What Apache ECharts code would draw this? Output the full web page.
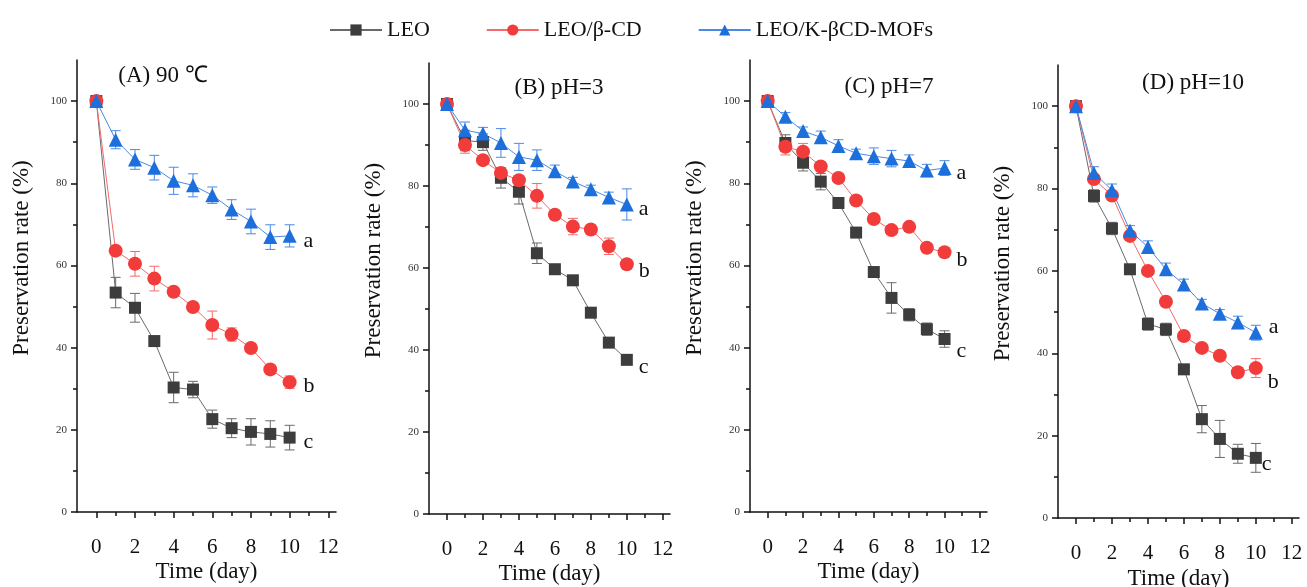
<!DOCTYPE html>
<html>
<head>
<meta charset="utf-8">
<script src="https://cdn.jsdelivr.net/npm/echarts@6/dist/echarts.min.js"></script>
<style>
  html, body { margin: 0; padding: 0; background: #fff; }
  #chart { width: 1307px; height: 587px; }
</style>
</head>
<body>
<div id="chart"></div>
<script>
// sampling days
const days = [0, 1, 2, 3, 4, 5, 6, 7, 8, 9, 10]
const xTicks = [0, 2, 4, 6, 8, 10, 12]
const xMinorTicks = [1, 3, 5, 7, 9, 11]
const yTicks = [0, 20, 40, 60, 80, 100]
const yMinorTicks = [10, 30, 50, 70, 90]

// (A) 90 °C
const leoA = [100, 53.4, 49.7, 41.6, 30.3, 29.8, 22.6, 20.4, 19.5, 19.0, 18.1]
const leoErrA = [0.8, 3.7, 3.5, 1.0, 3.7, 2.0, 2.2, 2.3, 3.2, 3.2, 3.0]
const cdA = [100, 63.6, 60.4, 56.8, 53.6, 49.9, 45.5, 43.2, 39.9, 34.7, 31.6]
const cdErrA = [0.8, 1.0, 3.0, 3.0, 1.0, 1.0, 3.4, 1.6, 1.0, 1.0, 1.5]
const mofA = [100, 90.6, 85.8, 83.8, 80.6, 79.5, 77.1, 73.6, 70.7, 66.9, 67.2]
const mofErrA = [0.8, 2.2, 2.4, 3.0, 3.3, 2.8, 2.0, 2.4, 3.0, 3.0, 2.7]

// (B) pH=3
const leoB = [100, 91.1, 90.7, 82.0, 78.6, 63.6, 59.7, 57.0, 49.1, 41.8, 37.6]
const leoErrB = [0.8, 2.5, 2.0, 2.5, 3.0, 2.5, 1.0, 1.0, 1.0, 1.0, 1.0]
const cdB = [100, 90.0, 86.3, 83.2, 81.4, 77.6, 73.0, 70.1, 69.4, 65.3, 60.9]
const cdErrB = [0.8, 2.0, 1.0, 1.3, 1.0, 3.0, 1.0, 2.0, 1.0, 2.0, 1.0]
const mofB = [100, 93.6, 92.8, 90.5, 87.1, 86.3, 83.6, 81.1, 79.2, 77.2, 75.5]
const mofErrB = [0.8, 2.0, 1.5, 3.5, 3.3, 2.5, 1.5, 1.0, 1.0, 1.3, 3.8]

// (C) pH=7
const leoC = [100, 89.8, 85.0, 80.4, 75.2, 68.0, 58.4, 52.1, 48.0, 44.5, 42.1]
const leoErrC = [0.8, 2.0, 2.0, 2.0, 1.0, 1.0, 1.0, 3.7, 1.5, 1.5, 2.0]
const cdC = [100, 88.9, 87.7, 84.1, 81.3, 75.8, 71.3, 68.6, 69.4, 64.3, 63.2]
const cdErrC = [0.8, 2.0, 2.0, 1.0, 1.0, 1.0, 1.0, 1.0, 1.0, 1.0, 1.0]
const mofC = [100, 96.2, 92.7, 91.2, 89.1, 87.3, 86.6, 86.0, 85.4, 83.1, 83.7]
const mofErrC = [0.8, 1.0, 1.0, 1.5, 1.5, 1.0, 2.0, 2.0, 1.5, 1.5, 1.8]

// (D) pH=10
const leoD = [100, 78.2, 70.3, 60.4, 47.1, 45.8, 36.1, 24.0, 19.2, 15.6, 14.6]
const leoErrD = [0.8, 1.5, 1.5, 1.0, 1.5, 1.5, 1.0, 3.3, 4.5, 2.3, 3.5]
const cdD = [100, 82.3, 78.3, 68.5, 60.0, 52.5, 44.2, 41.3, 39.4, 35.4, 36.4]
const cdErrD = [0.8, 1.0, 1.0, 1.0, 1.0, 1.0, 1.0, 1.0, 1.0, 1.0, 2.3]
const mofD = [100, 83.8, 79.6, 69.8, 65.8, 60.4, 56.7, 52.1, 49.6, 47.5, 45.0]
const mofErrD = [0.8, 1.5, 1.5, 1.2, 1.5, 1.5, 1.3, 1.0, 1.0, 1.5, 1.8]

const panelTitles = ['(A) 90 ℃', '(B) pH=3', '(C) pH=7', '(D) pH=10']
const seriesNames = ['LEO', 'LEO/β-CD', 'LEO/K-βCD-MOFs']
const endLetters = ['c', 'b', 'a']

const panels = [
  { leo: leoA, leoErr: leoErrA, cd: cdA, cdErr: cdErrA, mof: mofA, mofErr: mofErrA },
  { leo: leoB, leoErr: leoErrB, cd: cdB, cdErr: cdErrB, mof: mofB, mofErr: mofErrB },
  { leo: leoC, leoErr: leoErrC, cd: cdC, cdErr: cdErrC, mof: mofC, mofErr: mofErrC },
  { leo: leoD, leoErr: leoErrD, cd: cdD, cdErr: cdErrD, mof: mofD, mofErr: mofErrD }
]

// layout of each panel
const grids = [
  { left: 77, top: 60, width: 259, height: 452, outerBoundsMode: 'none' },
  { left: 429, top: 63, width: 241, height: 451, outerBoundsMode: 'none' },
  { left: 750, top: 60, width: 237, height: 452, outerBoundsMode: 'none' },
  { left: 1058, top: 65, width: 241, height: 453, outerBoundsMode: 'none' }
]
const titlePos = [[158, 59], [554, 71], [884, 70], [1188, 66]]
const xNameGaps = [48, 48, 48, 49]

const FONT = '"Liberation Serif", "Times New Roman", serif'
const styles = [
  { color: '#3d3d3d', line: '#6a6a6a', symbol: 'rect', size: 12 },
  { color: '#f23c3c', line: '#f56a6a', symbol: 'circle', size: 14 },
  { color: '#1d6fdc', line: '#4a8ae6', symbol: 'triangle', size: 14 }
]
const endOffsets = [
  [[6, 5], [6, 4], [6, 5]],
  [[4, 7], [4, 7], [4, 5]],
  [[4, 12], [4, 8], [4, 5]],
  [[-2, 6], [4, 14], [5, -5]]
]

const axisLine = { show: true, onZero: false, lineStyle: { color: '#111', width: 1.5 } }

const option = {
  backgroundColor: '#fff',
  animation: false,
  textStyle: { fontFamily: FONT },
  legend: {
    top: 14,
    left: 324,
    itemWidth: 52,
    itemHeight: 14,
    itemGap: 56,
    data: seriesNames,
    textStyle: { fontFamily: FONT, fontSize: 22, color: '#111' }
  },
  title: panelTitles.map((t, i) => ({
    text: t,
    left: titlePos[i][0],
    top: titlePos[i][1],
    textAlign: 'center',
    textStyle: { fontFamily: FONT, fontSize: 23, fontWeight: 'normal', color: '#111' }
  })),
  grid: grids,
  xAxis: [],
  yAxis: [],
  series: []
}

grids.forEach((g, i) => {
  // main x axis with labels
  option.xAxis.push({
    type: 'value', gridIndex: i, min: -1, max: 12.4, position: 'bottom',
    axisLine: axisLine,
    axisTick: { show: true, length: 6, customValues: xTicks, lineStyle: { color: '#111', width: 1.5 } },
    axisLabel: { customValues: xTicks, fontFamily: FONT, fontSize: 21, color: '#111', margin: 25 },
    splitLine: { show: false },
    name: 'Time (day)', nameLocation: 'middle', nameGap: xNameGaps[i],
    nameMoveOverlap: false,
    nameTextStyle: { fontFamily: FONT, fontSize: 23, color: '#111' }
  })
  // minor x ticks
  option.xAxis.push({
    type: 'value', gridIndex: i, min: -1, max: 12.4, position: 'bottom',
    axisLine: { show: false, onZero: false },
    axisTick: { show: true, length: 4, customValues: xMinorTicks, lineStyle: { color: '#111', width: 1.5 } },
    axisLabel: { show: false },
    splitLine: { show: false }
  })
  option.yAxis.push({
    type: 'value', gridIndex: i, min: 0, max: 110, position: 'left',
    axisLine: axisLine,
    axisTick: { show: true, length: 6, customValues: yTicks, lineStyle: { color: '#111', width: 1.5 } },
    axisLabel: { customValues: yTicks, fontFamily: FONT, fontSize: 11, color: '#333', margin: 10 },
    splitLine: { show: false },
    name: 'Preservation rate (%)', nameLocation: 'middle', nameGap: 44,
    nameTextStyle: { fontFamily: FONT, fontSize: 23, color: '#111', padding: [0, 0, 0, 56] }
  })
  option.yAxis.push({
    type: 'value', gridIndex: i, min: 0, max: 110, position: 'left',
    axisLine: { show: false, onZero: false },
    axisTick: { show: true, length: 4, customValues: yMinorTicks, lineStyle: { color: '#111', width: 1.5 } },
    axisLabel: { show: false },
    splitLine: { show: false }
  })

  const p = panels[i]
  const sets = [[p.leo, p.leoErr], [p.cd, p.cdErr], [p.mof, p.mofErr]]
  sets.forEach(([vals, errs], k) => {
    const st = styles[k]
    // error bars
    option.series.push({
      type: 'custom',
      name: seriesNames[k] + ' error',
      xAxisIndex: i * 2,
      yAxisIndex: i * 2,
      z: 1,
      silent: true,
      data: days.map((d, j) => [d, vals[j] - errs[j], vals[j] + errs[j]]),
      renderItem: function (params, api) {
        const lo = api.coord([api.value(0), api.value(1)])
        const hi = api.coord([api.value(0), api.value(2)])
        const w = 5
        const ls = { stroke: st.line, lineWidth: 1 }
        return {
          type: 'group',
          children: [
            { type: 'line', shape: { x1: lo[0], y1: lo[1], x2: hi[0], y2: hi[1] }, style: ls },
            { type: 'line', shape: { x1: lo[0] - w, y1: lo[1], x2: lo[0] + w, y2: lo[1] }, style: ls },
            { type: 'line', shape: { x1: hi[0] - w, y1: hi[1], x2: hi[0] + w, y2: hi[1] }, style: ls }
          ]
        }
      }
    })
    option.series.push({
      type: 'line',
      name: seriesNames[k],
      xAxisIndex: i * 2,
      yAxisIndex: i * 2,
      z: 3,
      data: days.map((d, j) => [d, vals[j]]),
      symbol: st.symbol,
      symbolSize: st.size,
      itemStyle: { color: st.color },
      lineStyle: { color: st.line, width: 1 },
      endLabel: {
        show: true,
        formatter: endLetters[k],
        offset: endOffsets[i][k],
        fontFamily: FONT,
        fontSize: 22,
        color: '#111'
      }
    })
  })
})

const chart = echarts.init(document.getElementById('chart'))
chart.setOption(option)
</script>
</body>
</html>
